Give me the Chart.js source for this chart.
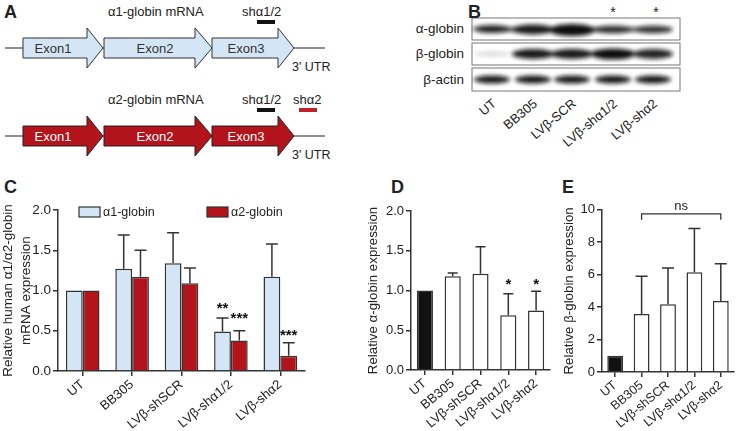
<!DOCTYPE html>
<html>
<head>
<meta charset="utf-8">
<script src="https://cdn.jsdelivr.net/npm/chart.js@4.4.0/dist/chart.umd.min.js"></script>
<style>
  body { margin: 0; background: #fff; font-family: 'Liberation Sans', Arial, sans-serif; }
  #fig { position: relative; width: 736px; height: 431px; overflow: hidden; }
  .lbl { position: absolute; font-weight: bold; font-size: 18px; color: #222; }
  canvas { position: absolute; }
  svg { position: absolute; left: 0; top: 0; }
</style>
</head>
<body>
<div id="fig">
  <svg width="736" height="195" font-family="'Liberation Sans', Arial, sans-serif">
    <defs>
      <filter id="blur" x="-20%" y="-100%" width="140%" height="300%"><feGaussianBlur stdDeviation="2.2"/></filter>
    </defs>
    <!-- panel A, alpha1 -->
    <line x1="5" y1="48" x2="325" y2="48" stroke="#222" stroke-width="1.2"/>
    <g fill="#d4e6f5" stroke="#333" stroke-width="1">
      <polygon points="23,38 87,38 87,28 103,48 87,68 87,58 23,58"/>
      <polygon points="104,38 195,38 195,28 212,48 195,68 195,58 104,58"/>
      <polygon points="212,38 278,38 278,28 294,48 278,68 278,58 212,58"/>
    </g>
    <g font-size="13" fill="#333" text-anchor="middle">
      <text x="53" y="53">Exon1</text>
      <text x="155" y="53">Exon2</text>
      <text x="246" y="53">Exon3</text>
    </g>
    <text x="108" y="16" font-size="13" fill="#222">α1-globin mRNA</text>
    <text x="242" y="16" font-size="13" fill="#222">shα1/2</text>
    <rect x="257" y="20" width="18" height="4" fill="#111"/>
    <text x="292" y="71" font-size="12.5" fill="#222">3' UTR</text>
    <!-- panel A, alpha2 -->
    <line x1="5" y1="136" x2="325" y2="136" stroke="#222" stroke-width="1.2"/>
    <g fill="#b3141c" stroke="#222" stroke-width="1">
      <polygon points="23,126 87,126 87,116 103,136 87,156 87,146 23,146"/>
      <polygon points="104,126 195,126 195,116 212,136 195,156 195,146 104,146"/>
      <polygon points="212,126 278,126 278,116 294,136 278,156 278,146 212,146"/>
    </g>
    <g font-size="13" fill="#fff" text-anchor="middle">
      <text x="53" y="141">Exon1</text>
      <text x="155" y="141">Exon2</text>
      <text x="246" y="141">Exon3</text>
    </g>
    <text x="108" y="104" font-size="13" fill="#222">α2-globin mRNA</text>
    <text x="242" y="104" font-size="13" fill="#222">shα1/2</text>
    <rect x="257" y="108" width="18" height="4" fill="#111"/>
    <text x="293" y="104" font-size="13" fill="#222">shα2</text>
    <rect x="299" y="108" width="18" height="4" fill="#c0202a"/>
    <text x="292" y="159" font-size="12.5" fill="#222">3' UTR</text>

    <!-- panel B, blot -->
    <g font-size="13.5" fill="#222" text-anchor="end">
      <text x="464" y="33">α-globin</text>
      <text x="464" y="58">β-globin</text>
      <text x="464" y="84">β-actin</text>
    </g>
    <g font-size="14" fill="#222" text-anchor="middle">
      <text x="613" y="17">*</text>
      <text x="656" y="17">*</text>
    </g>
    <rect x="472" y="18" width="208" height="22" fill="#fff" stroke="#777"/>
    <rect x="472" y="43" width="208" height="22" fill="#fff" stroke="#777"/>
    <rect x="472" y="68" width="208" height="23" fill="#fff" stroke="#777"/>
    <g filter="url(#blur)" fill="#111">
      <rect x="480" y="27" width="192" height="5" opacity="0.55"/>
      <ellipse cx="492" cy="29" rx="19" ry="4" opacity="0.85"/>
      <ellipse cx="533" cy="29.5" rx="21" ry="5" opacity="0.9"/>
      <ellipse cx="572" cy="30" rx="23" ry="6" opacity="1"/>
      <ellipse cx="613" cy="29.5" rx="20" ry="4" opacity="0.75"/>
      <ellipse cx="653" cy="29.5" rx="19" ry="4" opacity="0.7"/>

      <ellipse cx="492" cy="54" rx="18" ry="3" opacity="0.12"/>
      <ellipse cx="533" cy="54" rx="21" ry="5" opacity="0.95"/>
      <ellipse cx="572" cy="54" rx="21" ry="5" opacity="0.95"/>
      <ellipse cx="613" cy="54" rx="22" ry="5.5" opacity="1"/>
      <ellipse cx="653" cy="54" rx="20" ry="5" opacity="0.9"/>

      <ellipse cx="492" cy="79.5" rx="18" ry="4" opacity="0.95"/>
      <ellipse cx="533" cy="79.5" rx="18" ry="4" opacity="0.95"/>
      <ellipse cx="572" cy="79.5" rx="18" ry="4" opacity="0.95"/>
      <ellipse cx="613" cy="79.5" rx="18" ry="4" opacity="0.95"/>
      <ellipse cx="653" cy="79.5" rx="18" ry="4" opacity="0.95"/>
    </g>
    <g font-size="13" fill="#222" text-anchor="end">
      <text transform="translate(497,105) rotate(-40)">UT</text>
      <text transform="translate(538,105) rotate(-40)">BB305</text>
      <text transform="translate(577,105) rotate(-40)">LVβ-SCR</text>
      <text transform="translate(618,105) rotate(-40)">LVβ-shα1/2</text>
      <text transform="translate(658,105) rotate(-40)">LVβ-shα2</text>
    </g>
  </svg>

  <div class="lbl" style="left:4px;top:2px">A</div>
  <div class="lbl" style="left:468px;top:2px">B</div>
  <div class="lbl" style="left:4px;top:177px">C</div>
  <div class="lbl" style="left:391px;top:177px">D</div>
  <div class="lbl" style="left:562px;top:177px">E</div>

  <canvas id="chartC" width="310" height="231" style="left:0;top:200px"></canvas>
  <canvas id="chartD" width="190" height="231" style="left:365px;top:200px"></canvas>
  <canvas id="chartE" width="175" height="231" style="left:561px;top:200px"></canvas>
</div>

<script>
const categories = ['UT', 'BB305', 'LVβ-shSCR', 'LVβ-shα1/2', 'LVβ-shα2'];

// C: relative alpha1 / alpha2 mRNA (mean and SD)
const alpha1Mrna = [1.0, 1.27, 1.34, 0.49, 1.17];
const alpha1MrnaSd = [0, 0.42, 0.38, 0.17, 0.41];
const alpha2Mrna = [1.0, 1.17, 1.09, 0.38, 0.19];
const alpha2MrnaSd = [0, 0.33, 0.19, 0.12, 0.16];
const ticksC = [0, 0.5, 1.0, 1.5, 2.0];
const starsC = [
  { cat: 3, ds: 0, text: '**', at: 0.83 },
  { cat: 3, ds: 1, text: '***', at: 0.71 },
  { cat: 4, ds: 1, text: '***', at: 0.50 }
];

// D: relative alpha-globin protein
const alphaProtein = [1.0, 1.18, 1.21, 0.69, 0.75];
const alphaProteinSd = [0, 0.04, 0.34, 0.27, 0.24];
const ticksD = [0, 0.5, 1.0, 1.5, 2.0];
const starsD = [
  { cat: 3, ds: 0, text: '*', at: 1.13 },
  { cat: 4, ds: 0, text: '*', at: 1.13 }
];

// E: relative beta-globin protein
const betaProtein = [1.0, 3.57, 4.18, 6.15, 4.37];
const betaProteinSd = [0, 2.33, 2.23, 2.70, 2.31];
const ticksE = [0, 2, 4, 6, 8, 10];
const bracketE = { from: 1, to: 4, at: 9.75, drop: 0.37, text: 'ns' };

Chart.defaults.font.family = "'Liberation Sans', Arial, sans-serif";
Chart.defaults.color = '#222';

const ink = '#333';

// error bars, stars, brackets and legend drawn through the chart's scales
const marks = {
  id: 'marks',
  afterDatasetsDraw(chart, args, opts) {
    const ctx = chart.ctx;
    const y = chart.scales.y;
    ctx.save();
    ctx.strokeStyle = ink;
    ctx.lineWidth = 1.5;
    (opts.sd || []).forEach((sds, di) => {
      const meta = chart.getDatasetMeta(di);
      const vals = chart.data.datasets[di].data;
      meta.data.forEach((bar, i) => {
        if (!sds[i]) return;
        const top = y.getPixelForValue(vals[i] + sds[i]);
        ctx.beginPath();
        ctx.moveTo(bar.x, bar.y);
        ctx.lineTo(bar.x, top);
        ctx.moveTo(bar.x - opts.cap, top);
        ctx.lineTo(bar.x + opts.cap, top);
        ctx.stroke();
      });
    });
    ctx.fillStyle = '#111';
    ctx.font = 'bold 15px ' + Chart.defaults.font.family;
    ctx.textAlign = 'center';
    ctx.textBaseline = 'alphabetic';
    (opts.stars || []).forEach(s => {
      const bar = chart.getDatasetMeta(s.ds).data[s.cat];
      ctx.fillText(s.text, bar.x, y.getPixelForValue(s.at) + 9);
    });
    const b = opts.bracket;
    if (b) {
      const m = chart.getDatasetMeta(0).data;
      const x1 = m[b.from].x, x2 = m[b.to].x;
      const yb = y.getPixelForValue(b.at), yd = y.getPixelForValue(b.at - b.drop);
      ctx.lineWidth = 1.3;
      ctx.beginPath();
      ctx.moveTo(x1, yd); ctx.lineTo(x1, yb); ctx.lineTo(x2, yb); ctx.lineTo(x2, yd);
      ctx.stroke();
      ctx.font = '13px ' + Chart.defaults.font.family;
      ctx.fillStyle = '#222';
      ctx.fillText(b.text, (x1 + x2) / 2, yb - 4);
    }
    if (opts.legend) {
      ctx.font = '12.5px ' + Chart.defaults.font.family;
      ctx.textAlign = 'left';
      ctx.textBaseline = 'middle';
      chart.data.datasets.forEach((ds, i) => {
        const lx = opts.legend.x[i], ly = opts.legend.y;
        ctx.fillStyle = ds.backgroundColor;
        ctx.fillRect(lx, ly, 21, 10);
        ctx.lineWidth = 1.2;
        ctx.strokeStyle = ink;
        ctx.strokeRect(lx, ly, 21, 10);
        ctx.fillStyle = '#222';
        ctx.fillText(ds.label, lx + 24, ly + 5.5);
      });
    }
    ctx.restore();
  }
};

function axes(ticks, fmt, title, yWidth, xHeight, sizes) {
  return {
    x: {
      grid: { display: true, drawOnChartArea: false, offset: false, color: ink, lineWidth: 1.5, tickLength: 5 },
      border: { display: true, color: ink, width: 1.5 },
      ticks: { autoSkip: false, minRotation: 40, maxRotation: 40, padding: 1, font: { size: sizes.x }, color: '#222' },
      afterFit: s => { s.height = xHeight; }
    },
    y: {
      min: ticks[0], max: ticks[ticks.length - 1],
      afterBuildTicks: s => { s.ticks = ticks.map(v => ({ value: v })); },
      grid: { display: true, drawOnChartArea: false, color: ink, lineWidth: 1.5, tickLength: 5 },
      border: { display: true, color: ink, width: 1.5 },
      ticks: { callback: fmt, padding: 2, font: { size: sizes.y }, color: '#222' },
      title: { display: true, text: title, font: { size: sizes.t, lineHeight: 1.3 }, color: '#222', padding: { top: 0, bottom: 2 } },
      afterFit: s => { s.width = yWidth; }
    }
  };
}

const oneDec = v => v.toFixed(1);

new Chart(document.getElementById('chartC'), {
  type: 'bar',
  data: {
    labels: categories,
    datasets: [
      { label: 'α1-globin', data: alpha1Mrna, backgroundColor: '#d4e6f5', borderColor: ink, borderWidth: 1.5,
        categoryPercentage: 0.68, barPercentage: 1.0 },
      { label: 'α2-globin', data: alpha2Mrna, backgroundColor: '#b3141c', borderColor: ink, borderWidth: 1.5,
        categoryPercentage: 0.68, barPercentage: 1.0 }
    ]
  },
  options: {
    responsive: false,
    animation: false,
    layout: { padding: { top: 8, right: 5, left: 0, bottom: 0 } },
    scales: axes(ticksC, oneDec, ['Relative human α1/α2-globin', 'mRNA expression'], 58, 60, { x: 13, y: 13.5, t: 13.5 }),
    plugins: {
      legend: { display: false },
      tooltip: { enabled: false },
      marks: { sd: [alpha1MrnaSd, alpha2MrnaSd], cap: 6, stars: starsC, legend: { x: [79, 207], y: 7 } }
    }
  },
  plugins: [marks]
});

new Chart(document.getElementById('chartD'), {
  type: 'bar',
  data: {
    labels: categories,
    datasets: [
      { label: 'α-globin', data: alphaProtein,
        backgroundColor: ['#111', '#fff', '#fff', '#fff', '#fff'], borderColor: ink, borderWidth: 1.5,
        categoryPercentage: 1.0, barPercentage: 0.58 }
    ]
  },
  options: {
    responsive: false,
    animation: false,
    layout: { padding: { top: 11, right: 5, left: 0, bottom: 0 } },
    scales: axes(ticksD, oneDec, 'Relative α-globin expression', 46, 61, { x: 13, y: 13, t: 13.3 }),
    plugins: {
      legend: { display: false },
      tooltip: { enabled: false },
      marks: { sd: [alphaProteinSd], cap: 5, stars: starsD }
    }
  },
  plugins: [marks]
});

new Chart(document.getElementById('chartE'), {
  type: 'bar',
  data: {
    labels: categories,
    datasets: [
      { label: 'β-globin', data: betaProtein,
        backgroundColor: ['#111', '#fff', '#fff', '#fff', '#fff'], borderColor: ink, borderWidth: 1.5,
        categoryPercentage: 1.0, barPercentage: 0.6 }
    ]
  },
  options: {
    responsive: false,
    animation: false,
    layout: { padding: { top: 9, right: 2, left: 0, bottom: 0 } },
    scales: axes(ticksE, v => String(v), 'Relative β-globin expression', 41, 59, { x: 12.5, y: 13, t: 13.3 }),
    plugins: {
      legend: { display: false },
      tooltip: { enabled: false },
      marks: { sd: [betaProteinSd], cap: 6, bracket: bracketE }
    }
  },
  plugins: [marks]
});
</script>
</body>
</html>
